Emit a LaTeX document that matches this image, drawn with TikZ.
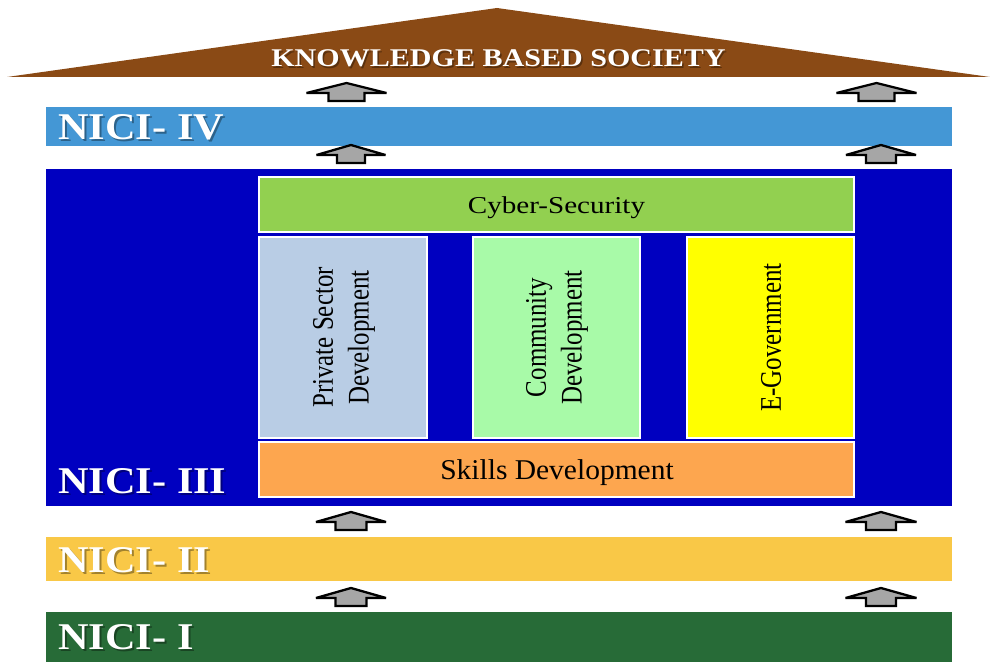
\documentclass[tikz,border=0pt]{standalone}
\usepackage{fontspec}
\setmainfont{Liberation Serif}
\definecolor{roofbrown}{HTML}{8A4A15}
\definecolor{niciIV}{HTML}{4497D5}
\definecolor{niciIII}{HTML}{0000C0}
\definecolor{niciII}{HTML}{F9C847}
\definecolor{niciI}{HTML}{276B37}
\definecolor{cyber}{HTML}{92D050}
\definecolor{private}{HTML}{B9CDE5}
\definecolor{community}{HTML}{A8FAA8}
\definecolor{egov}{HTML}{FFFF00}
\definecolor{skills}{HTML}{FDA64F}
\definecolor{arrowgray}{HTML}{A6A6A6}
\begin{document}
\begin{tikzpicture}[x=0.02cm,y=-0.02cm,
    pillar/.style={draw=white,line width=1.3pt},
    nicilbl/.style={anchor=base west,text=white,inner sep=0pt,xscale=1.12,
      font=\fontsize{21.5}{24}\selectfont\bfseries},
    lblshadow/.style={text=black,opacity=0.35},
    boxtext/.style={inner sep=0pt,font=\fontsize{14.2}{17}\selectfont},
    uptext/.style={boxtext,align=center,rotate=90,yscale=1.2},
    uparrow/.style={fill=arrowgray,draw=black,line width=1.3pt,line join=miter,miter limit=2.5}]
    \useasboundingbox (0,0) rectangle (990,662);

    % roof
    \fill[roofbrown] (7,77) -- (497,8) -- (990,77) -- cycle;
    \node[anchor=base,inner sep=0pt,xscale=1.18,lblshadow,
      font=\fontsize{14.5}{16}\selectfont\bfseries] (kbs-sh) at (500,68.5) {KNOWLEDGE BASED SOCIETY};
    \node[anchor=base,inner sep=0pt,xscale=1.18,text=white,
      font=\fontsize{14.5}{16}\selectfont\bfseries] (kbs) at (498.5,67) {KNOWLEDGE BASED SOCIETY};

    % bars
    \fill[niciIV] (46,107) rectangle (952,146);
    \fill[niciIII] (46,169) rectangle (952,506);
    \fill[niciII] (46,537) rectangle (952,581);
    \fill[niciI] (46,612) rectangle (952,662);

    \foreach \name/\txt/\yb in {iv/IV/140,iii/III/493,ii/II/572,i/I/649}{
      \node[nicilbl,lblshadow] (\name-sh) at (60,\yb+2) {NICI- \txt};
      \node[nicilbl] (\name) at (58,\yb) {NICI- \txt};
    }

    % pillars inside NICI-III
    \draw[pillar,fill=cyber] (259,177) rectangle (854,232);
    \draw[pillar,fill=private] (259,237) rectangle (427,438);
    \draw[pillar,fill=community] (473,237) rectangle (640,438);
    \draw[pillar,fill=egov] (687,237) rectangle (854,438);
    \draw[pillar,fill=skills] (259,442) rectangle (854,497);

    \node[boxtext,anchor=base,xscale=1.2,font=\fontsize{13.8}{16}\selectfont] (cyb) at (556.5,214) {Cyber-Security};
    \node[uptext] (psd) at (344,337.5) {Private Sector\\Development};
    \node[uptext] (cd) at (557,337.5) {Community\\Development};
    \node[uptext] (eg) at (771,337.5) {E-Government};
    \node[boxtext,anchor=base,xscale=1.03,font=\fontsize{16.3}{18}\selectfont] (sd) at (557,479) {Skills Development};

    % arrows between the layers
    \foreach \x/\y/\hw/\sw in {346.5/83/40/18,876.5/83/40/18,
        351/145/34.5/14,881/145/35/15,
        351/512/35/15.5,881/512/35.5/15,
        351/588/35/15.5,881/588/35.5/15}{
      \draw[uparrow] ({\x-\hw},\y+10) -- (\x,\y) -- ({\x+\hw},\y+10) -- ({\x+\sw},\y+10)
        -- ({\x+\sw},\y+18) -- ({\x-\sw},\y+18) -- ({\x-\sw},\y+10) -- cycle;
    }
\end{tikzpicture}
\end{document}
